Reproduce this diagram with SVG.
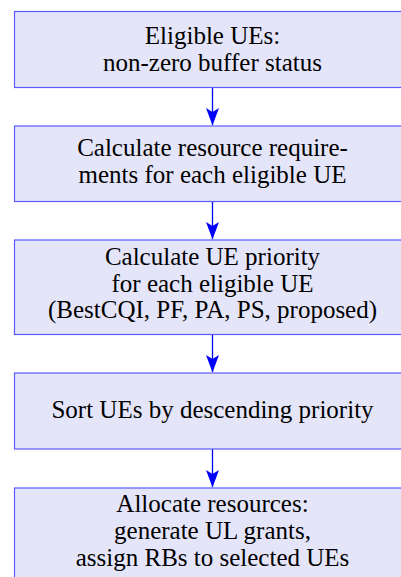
<svg xmlns="http://www.w3.org/2000/svg" width="401" height="577" viewBox="0 0 401 577">
<defs>
<style>
.box{fill:#e5e5fa;stroke:#5a5aff;stroke-width:1.2}
text{font-family:'Liberation Serif','Times New Roman',serif;font-size:25px;fill:#000;text-anchor:middle}
.c{stroke:#0000ff;stroke-width:1.3;fill:none}
.h{fill:#0000ff}
</style>
</defs>
<g id="connectors">
<path class="c" d="M212.5,87.5 V125"/>
<path class="h" d="M212.5,125.5 L206,108 L212.5,112 L219,108 Z"/>
<path class="c" d="M212.5,201.5 V239"/>
<path class="h" d="M212.5,239.5 L206,222 L212.5,226 L219,222 Z"/>
<path class="c" d="M212.5,334.5 V372"/>
<path class="h" d="M212.5,372.5 L206,355 L212.5,359 L219,355 Z"/>
<path class="c" d="M212.5,449 V487"/>
<path class="h" d="M212.5,487.5 L206,470 L212.5,474 L219,470 Z"/>
</g>
<g id="n1">
<rect class="box" x="14.5" y="11.5" width="396" height="76"/>
<text x="212.5" y="44.3">Eligible UEs:</text>
<text x="212.5" y="71">non-zero buffer status</text>
</g>
<g id="n2">
<rect class="box" x="14.5" y="126" width="396" height="75.5"/>
<text x="212.5" y="156">Calculate resource require-</text>
<text x="212.5" y="183">ments for each eligible UE</text>
</g>
<g id="n3">
<rect class="box" x="14.5" y="240" width="396" height="94.5"/>
<text x="212.5" y="265">Calculate UE priority</text>
<text x="212.5" y="291.7">for each eligible UE</text>
<text x="212.5" y="318">(BestCQI, PF, PA, PS, proposed)</text>
</g>
<g id="n4">
<rect class="box" x="14.5" y="373" width="396" height="76"/>
<text x="212.5" y="418">Sort UEs by descending priority</text>
</g>
<g id="n5">
<rect class="box" x="14.5" y="488" width="396" height="100"/>
<text x="212.5" y="511.7">Allocate resources:</text>
<text x="212.5" y="539">generate UL grants,</text>
<text x="212.5" y="565.7">assign RBs to selected UEs</text>
</g>
</svg>
